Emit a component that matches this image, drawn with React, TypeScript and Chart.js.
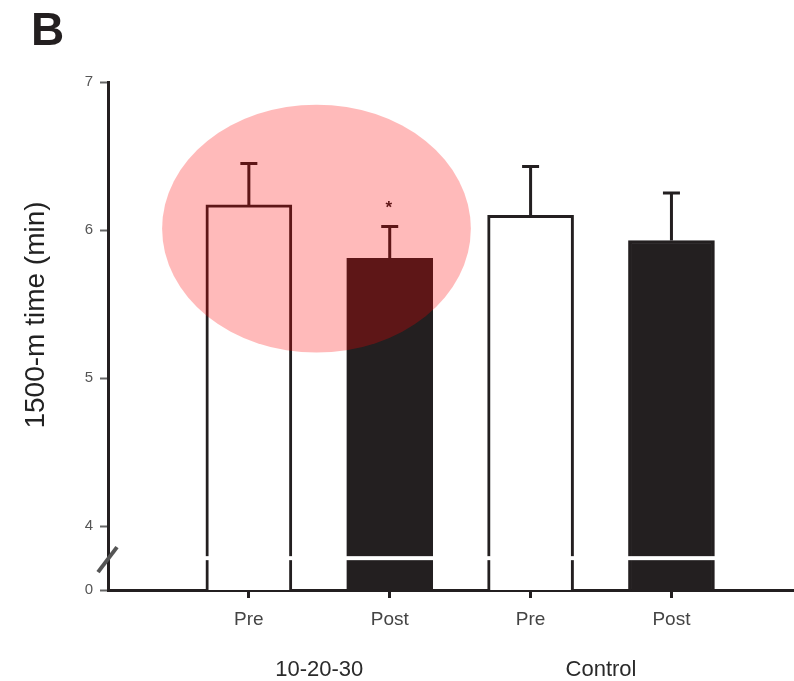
import React, { useEffect, useRef } from 'react';
import { Chart, registerables } from 'chart.js';

Chart.register(...registerables);

// ---- data ----
const categories = ['Pre', 'Post', 'Pre', 'Post'];
const groups = ['10-20-30', 'Control'];
const means = [6.17, 5.81, 6.1, 5.93];
const errUpper = [6.45, 6.025, 6.43, 6.25];
const barColors = ['#ffffff', '#231f20', '#ffffff', '#231f20'];
const significant = [false, true, false, false];
const yTickValues = [3.57, 4, 5, 6, 7];
const yTickLabels = ['0', '4', '5', '6', '7'];
const Y_MIN = 3.57;
const Y_MAX = 7;
const X_MIN = 0;
const X_MAX = 4.87;
const BREAK_VALUE = 3.785;
const highlight = { cx: 1.48, cy: 6.01, rx: 1.096, ry: 0.837 };

const INK = '#231f20';
const FONT = '"Liberation Sans", Arial, sans-serif';

const overlayPlugin = {
  id: 'overlay',
  afterDatasetsDraw(chart: any) {
    const ctx = chart.ctx as CanvasRenderingContext2D;
    const xs = chart.scales.x;
    const ys = chart.scales.y;
    const meta = chart.getDatasetMeta(0);
    ctx.save();
    // axis break gap through the bars
    const gy = ys.getPixelForValue(BREAK_VALUE);
    ctx.fillStyle = '#ffffff';
    meta.data.forEach((el: any) => {
      const p = el.getProps(['x', 'width'], true);
      ctx.fillRect(p.x - p.width / 2 - 1, gy - 2, p.width + 2, 4);
    });
    // error bars
    ctx.strokeStyle = INK;
    ctx.lineWidth = 3;
    means.forEach((m, i) => {
      const x = xs.getPixelForValue(i + 1);
      const y0 = ys.getPixelForValue(m);
      const y1 = ys.getPixelForValue(errUpper[i]);
      ctx.beginPath();
      ctx.moveTo(x, y0);
      ctx.lineTo(x, y1);
      ctx.moveTo(x - 8.5, y1);
      ctx.lineTo(x + 8.5, y1);
      ctx.stroke();
      if (significant[i]) {
        ctx.fillStyle = INK;
        ctx.font = `bold 17px ${FONT}`;
        ctx.textAlign = 'center';
        ctx.textBaseline = 'alphabetic';
        ctx.fillText('*', x - 1, ys.getPixelForValue(6.18) + 10);
      }
    });
    // highlight ellipse
    const cx = xs.getPixelForValue(highlight.cx);
    const cy = ys.getPixelForValue(highlight.cy);
    const rx = xs.getPixelForValue(highlight.cx + highlight.rx) - cx;
    const ry = cy - ys.getPixelForValue(highlight.cy + highlight.ry);
    ctx.fillStyle = 'rgba(255,0,0,0.27)';
    ctx.beginPath();
    ctx.ellipse(cx, cy, rx, ry, 0, 0, Math.PI * 2);
    ctx.fill();
    ctx.restore();
  },
  afterDraw(chart: any) {
    const ctx = chart.ctx as CanvasRenderingContext2D;
    const xs = chart.scales.x;
    const ys = chart.scales.y;
    const area = chart.chartArea;
    ctx.save();
    // axis break slash
    const gy = ys.getPixelForValue(BREAK_VALUE);
    ctx.strokeStyle = '#555';
    ctx.lineWidth = 4;
    ctx.beginPath();
    ctx.moveTo(area.left - 10, gy + 14);
    ctx.lineTo(area.left + 9, gy - 11);
    ctx.stroke();
    // group labels
    ctx.fillStyle = '#2a2a2a';
    ctx.font = `22px ${FONT}`;
    ctx.textAlign = 'center';
    ctx.textBaseline = 'middle';
    groups.forEach((g, gi) => {
      const x = (xs.getPixelForValue(gi * 2 + 1) + xs.getPixelForValue(gi * 2 + 2)) / 2;
      ctx.fillText(g, x, 670);
    });
    // y axis title
    ctx.save();
    ctx.translate(36, 315);
    ctx.rotate(-Math.PI / 2);
    ctx.fillStyle = '#222';
    ctx.font = `28px ${FONT}`;
    ctx.textAlign = 'center';
    ctx.textBaseline = 'middle';
    ctx.fillText('1500-m time (min)', 0, 0);
    ctx.restore();
    // panel letter
    ctx.fillStyle = INK;
    ctx.font = `bold 46px ${FONT}`;
    ctx.textAlign = 'left';
    ctx.textBaseline = 'alphabetic';
    ctx.fillText('B', 31, 45);
    ctx.restore();
  },
};

export default function App() {
  const ref = useRef<HTMLCanvasElement | null>(null);
  useEffect(() => {
    if (!ref.current) return;
    const chart = new Chart(ref.current, {
      type: 'bar',
      data: {
        datasets: [
          {
            data: means.map((m, i) => ({ x: i + 1, y: m })),
            backgroundColor: barColors,
            borderColor: INK,
            borderWidth: 3,
            barThickness: 86,
          } as any,
        ],
      },
      options: {
        animation: false,
        responsive: false,
        maintainAspectRatio: false,
        layout: { padding: { top: 82, left: 0, right: 0, bottom: 0 } },
        plugins: { legend: { display: false }, tooltip: { enabled: false } },
        scales: {
          x: {
            type: 'linear',
            min: X_MIN,
            max: X_MAX,
            offset: false,
            z: 1,
            afterFit: (s: any) => {
              s.height = 91;
            },
            afterBuildTicks: (s: any) => {
              s.ticks = categories.map((_, i) => ({ value: i + 1 }));
            },
            ticks: {
              callback: (v: any) => categories[Math.round(Number(v)) - 1] ?? '',
              font: { family: FONT, size: 19 },
              color: '#444',
              padding: 10,
              maxRotation: 0,
              autoSkip: false,
            },
            grid: {
              offset: false,
              drawOnChartArea: false,
              drawTicks: true,
              tickLength: 8,
              tickWidth: 3,
              tickColor: INK,
              color: INK,
            },
            border: { display: true, width: 3, color: INK },
          },
          y: {
            type: 'linear',
            min: Y_MIN,
            max: Y_MAX,
            beginAtZero: false,
            z: 1,
            afterFit: (s: any) => {
              s.width = 108;
            },
            afterBuildTicks: (s: any) => {
              s.ticks = yTickValues.map((v) => ({ value: v }));
            },
            ticks: {
              callback: (v: any) => {
                const idx = yTickValues.findIndex((t) => Math.abs(t - Number(v)) < 1e-6);
                return idx >= 0 ? yTickLabels[idx] : '';
              },
              font: { family: FONT, size: 15 },
              color: '#555',
              padding: 7,
              autoSkip: false,
            },
            grid: {
              offset: false,
              drawOnChartArea: false,
              drawTicks: true,
              tickLength: 8,
              tickWidth: 2,
              tickColor: '#666',
              color: '#666',
            },
            border: { display: true, width: 3, color: INK },
          },
        },
      } as any,
      plugins: [overlayPlugin],
    });
    return () => chart.destroy();
  }, []);
  return (
    <div style={{ position: 'absolute', left: 0, top: 0, width: 794, height: 681, background: '#fff' }}>
      <canvas ref={ref} width={794} height={681} style={{ display: 'block' }} />
    </div>
  );
}
